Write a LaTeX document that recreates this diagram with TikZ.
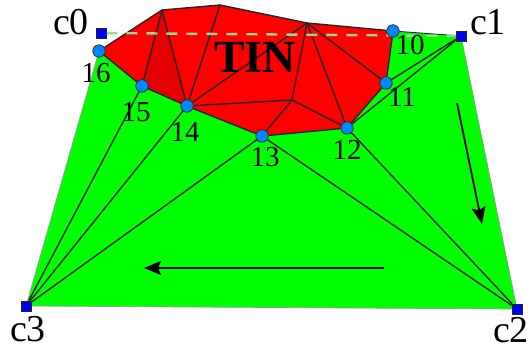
\documentclass[tikz,border=0pt]{standalone}
\usepackage{fontspec}
\setmainfont{Liberation Serif}
\usetikzlibrary{arrows.meta,backgrounds}

\definecolor{vtxblue}{RGB}{0,136,255}
\definecolor{dashgreen}{RGB}{150,215,150}

\begin{document}
\begin{tikzpicture}[
  x=1pt, y=-1pt,
  vtx/.style={circle, draw=black!85, fill=vtxblue, line width=0.7pt,
              minimum size=12.5pt, inner sep=0pt},
  crn/.style={rectangle, draw=black!85, fill=blue, line width=0.8pt,
              minimum size=10pt, inner sep=0pt},
  num/.style={font=\fontsize{29}{29}\selectfont, inner sep=0pt},
  cname/.style={font=\fontsize{38}{38}\selectfont, inner sep=0pt},
  edge/.style={draw=black!85, line width=1.4pt},
  rim/.style={draw=black!40, line width=0.7pt},
  big/.style={-{Stealth[length=17pt,width=14pt,inset=3pt]}, line width=1.8pt, draw=black}
]
\useasboundingbox (0,0) rectangle (532,349);

% ---- corners of the grid
\node[crn] (c0) at (101,33)  {};
\node[crn] (c1) at (461,36)  {};
\node[crn] (c2) at (517,309) {};
\node[crn] (c3) at (26,306)  {};

% ---- boundary vertices of the TIN
\node[vtx] (v10) at (393,31)  {};
\node[vtx] (v11) at (386,83)  {};
\node[vtx] (v12) at (347,128) {};
\node[vtx] (v13) at (262,136) {};
\node[vtx] (v14) at (187,106) {};
\node[vtx] (v15) at (142,86)  {};
\node[vtx] (v16) at (99,51)   {};

% ---- inner points of the TIN
\coordinate (p1) at (162,10);
\coordinate (p2) at (220,5);
\coordinate (p3) at (307,23);
\coordinate (p4) at (292,100);

% ---- labels
\node[cname] (lc0) at (71,22)   {c0};
\node[cname] (lc1) at (488,22)  {c1};
\node[cname] (lc2) at (511,330) {c2};
\node[cname] (lc3) at (28,329)  {c3};
\node[num] (l10) at (410,45)  {10};
\node[num] (l11) at (402,97)  {11};
\node[num] (l12) at (347,150) {12};
\node[num] (l13) at (265,157) {13};
\node[num] (l14) at (185,132) {14};
\node[num] (l15) at (136,112) {15};
\node[num] (l16) at (96,73)   {16};
\node[font=\bfseries\fontsize{46}{46}\selectfont, inner sep=0pt] (tin) at (255,57) {TIN};

% ---- direction arrows
\coordinate (a1) at (457,103);
\coordinate (a2) at (482,224);
\coordinate (a3) at (384,268);
\coordinate (a4) at (144,268);
\draw[big] (a1) -- (a2);
\draw[big] (a3) -- (a4);

\begin{scope}[on background layer]
% ---- filled regions
\fill[green] (c3.center) -- (c2.center) -- (c1.center)
  -- (v10.center) -- (v11.center) -- (v12.center) -- (v13.center) -- (v14.center)
  -- (v15.center) -- (v16.center) -- cycle;
\fill[red] (v16.center) -- (p1) -- (p2) -- (p3) -- (v10.center) -- (v11.center)
  -- (v12.center) -- (v13.center) -- (v14.center) -- (v15.center) -- cycle;
\fill[red!90!black] (p1) -- (v15.center) -- (v14.center) -- cycle;

% ---- outline
\draw[edge] (v16) -- (p1) -- (p2) -- (p3) -- (v10);
\draw[edge] (v10) -- (v11) -- (v12) -- (v13) -- (v14) -- (v15) -- (v16);
\draw[rim] (v16) -- (c3);
\draw[rim] (c3) -- (c2);
\draw[rim] (c2) -- (c1);
\draw[edge, line width=0.9pt] (c1) -- (v10);

% ---- inner triangles of the TIN
\draw[edge] (p1) -- (v15);
\draw[edge] (p1) -- (v14);
\draw[edge] (p2) -- (v14);
\draw[edge] (p3) -- (v14);
\draw[edge] (p4) -- (v14);
\draw[edge] (p4) -- (v13);
\draw[edge] (p4) -- (v12);
\draw[edge] (p4) -- (p3);
\draw[edge] (p3) -- (v12);
\draw[edge] (p3) -- (v11);

% ---- triangles out to the corners
\draw[edge] (v15) -- (c3);
\draw[edge] (v14) -- (c3);
\draw[edge] (v13) -- (c3);
\draw[edge] (v13) -- (c2);
\draw[edge] (v12) -- (c2);
\draw[edge] (v12) -- (c1);
\draw[edge] (v11) -- (c1);

% ---- dashed line c0 to c1
\draw[dashgreen, line width=2.4pt, dash pattern=on 11pt off 9pt] (c0) -- (c1);
\end{scope}
\end{tikzpicture}
\end{document}
